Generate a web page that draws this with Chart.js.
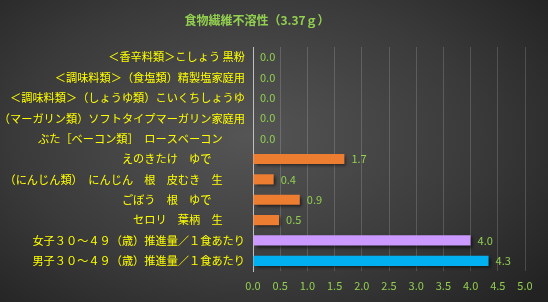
<!DOCTYPE html>
<html>
<head>
<meta charset="utf-8">
<script src="https://cdn.jsdelivr.net/npm/chart.js@4"></script>
<style>
  html, body { margin: 0; padding: 0; }
  body {
    width: 548px; height: 302px; overflow: hidden;
    background: radial-gradient(ellipse 70% 80% at 45% 45%, #555555 0%, #3a3a3a 60%, #222222 100%);
  }
  #chart { display: block; }
</style>
</head>
<body>
<canvas id="chart" width="548" height="302"></canvas>
<script>
// --- データ ---
const TITLE = '食物繊維不溶性（3.37ｇ）';
const categories = [
    '＜香辛料類＞こしょう 黒粉',
    '＜調味料類＞（食塩類）精製塩家庭用',
    '＜調味料類＞（しょうゆ類）こいくちしょうゆ',
    '（マーガリン類）ソフトタイプマーガリン家庭用',
    'ぶた［ベーコン類］　ロースベーコン　　',
    'えのきたけ　ゆで　　　',
    '（にんじん類）　にんじん　根　皮むき　生　　',
    'ごぼう　根　ゆで　　　',
    'セロリ　葉柄　生　　',
    '女子３０～４９（歳）推進量／１食あたり',
    '男子３０～４９（歳）推進量／１食あたり'
];
const values = [0, 0, 0, 0, 0, 1.68, 0.38, 0.86, 0.48, 4.0, 4.33];
const barColors = ['#ED7D31', '#ED7D31', '#ED7D31', '#ED7D31', '#ED7D31',
                   '#ED7D31', '#ED7D31', '#ED7D31', '#ED7D31', '#CC99FF', '#00B0F0'];
const xTicks = [0, 0.5, 1, 1.5, 2, 2.5, 3, 3.5, 4, 4.5, 5];

const FONT = '"Noto Sans CJK JP", "Noto Sans", sans-serif';

// 値ラベル + タイトル
const labelsPlugin = {
    id: 'valueLabels',
    beforeDatasetsDraw(chart) {
        const ctx = chart.ctx;
        ctx.save();
        ctx.shadowColor = 'rgba(0,0,0,0.55)';
        ctx.shadowOffsetX = 2;
        ctx.shadowOffsetY = 2;
        ctx.shadowBlur = 3;
    },
    afterDatasetsDraw(chart) {
        const ctx = chart.ctx;
        ctx.restore();
        const meta = chart.getDatasetMeta(0);
        ctx.save();
        ctx.font = '11px ' + FONT;
        ctx.fillStyle = '#92D050';
        ctx.textAlign = 'left';
        ctx.textBaseline = 'middle';
        meta.data.forEach((bar, i) => {
            ctx.fillText(values[i].toFixed(1), bar.x + 7, bar.y);
        });
        ctx.font = 'bold 12px ' + FONT;
        ctx.textAlign = 'center';
        ctx.fillText(TITLE, 257, 20);
        ctx.restore();
    }
};

new Chart(document.getElementById('chart'), {
    type: 'bar',
    data: {
        labels: categories,
        datasets: [{
            data: values,
            backgroundColor: barColors,
            borderWidth: 0,
            barPercentage: 0.5,
            categoryPercentage: 1.0
        }]
    },
    options: {
        indexAxis: 'y',
        responsive: false,
        animation: false,
        devicePixelRatio: 1,
        layout: { padding: { top: 47, left: 2, right: 23, bottom: 0 } },
        plugins: { legend: { display: false }, tooltip: { enabled: false } },
        scales: {
            x: {
                min: 0, max: 5,
                afterBuildTicks: (s) => { s.ticks = xTicks.map(v => ({ value: v })); },
                afterFit: (s) => { s.height = 31; },
                grid: { color: 'rgba(255,255,255,0.16)', drawTicks: false },
                border: { display: false },
                ticks: {
                    color: '#92D050',
                    padding: 8,
                    font: { size: 11, family: FONT },
                    callback: (v) => Number(v).toFixed(1)
                }
            },
            y: {
                grid: { display: false, drawTicks: false },
                border: { display: true, color: '#bfbfbf', width: 1 },
                afterFit: (s) => { s.width = 251; },
                ticks: {
                    color: '#FFFF00',
                    padding: 8,
                    autoSkip: false,
                    font: { size: 11.2, family: FONT }
                }
            }
        }
    },
    plugins: [labelsPlugin]
});
</script>
</body>
</html>
